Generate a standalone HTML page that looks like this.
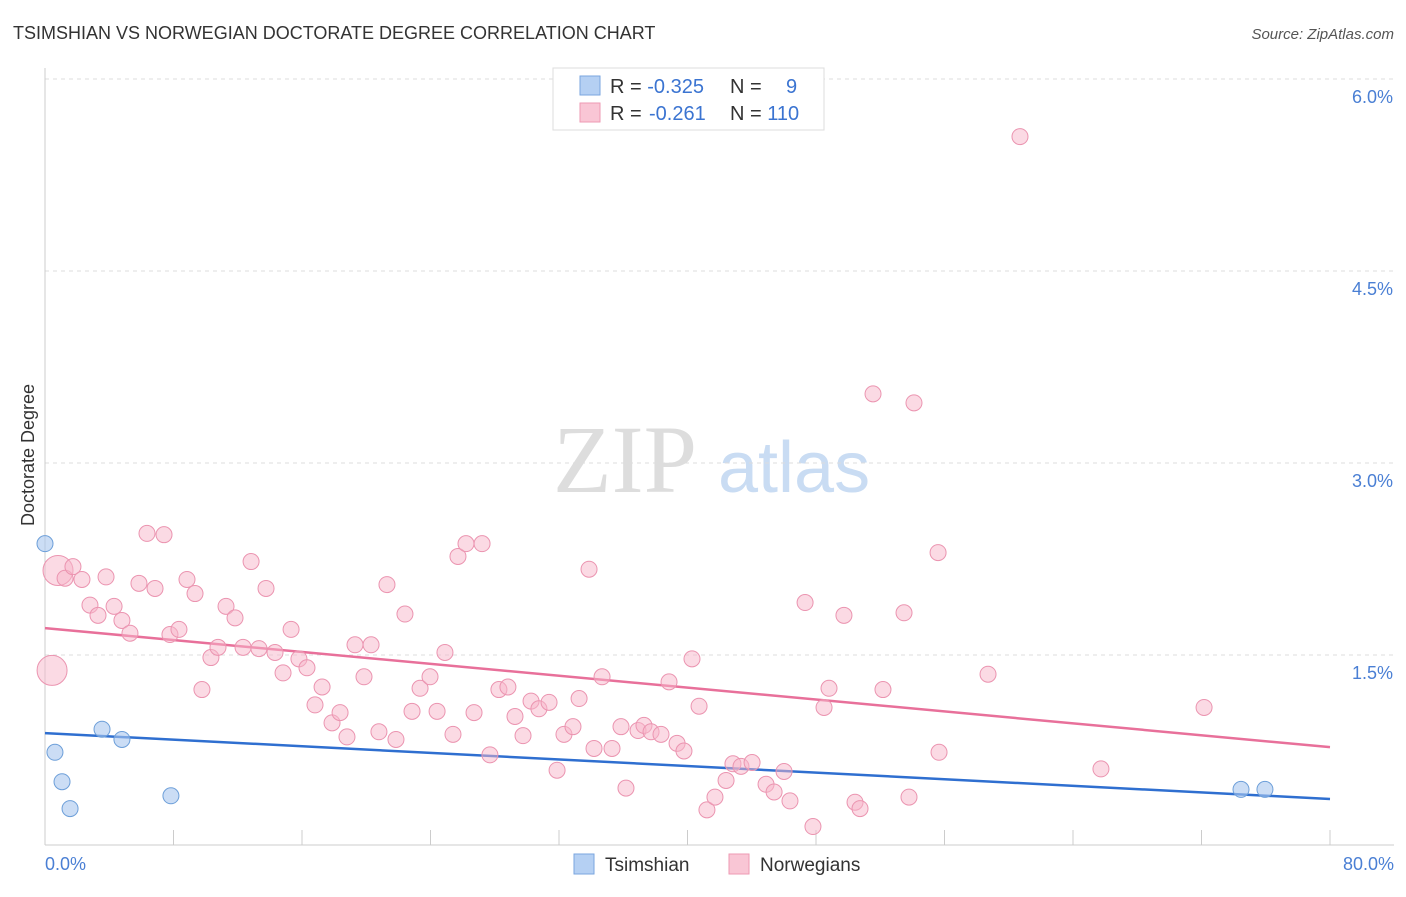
<!DOCTYPE html>
<html><head><meta charset="utf-8"><style>
body{margin:0;background:#fff;font-family:"Liberation Sans",sans-serif}
svg text{font-family:"Liberation Sans",sans-serif}
</style></head><body>
<svg id="c" width="1406" height="892">
<text x="13" y="39" font-size="18" fill="#333">TSIMSHIAN VS NORWEGIAN DOCTORATE DEGREE CORRELATION CHART</text>
<text x="1394" y="39" font-size="15" fill="#555" font-style="italic" text-anchor="end">Source: ZipAtlas.com</text>
<text x="34" y="455" font-size="18" fill="#333" text-anchor="middle" transform="rotate(-90 34 455)">Doctorate Degree</text>
<g><text x="553" y="492" font-size="96" fill="#ddd" font-family="Liberation Serif" style="font-family:'Liberation Serif',serif">ZIP</text><text x="718" y="492" font-size="72" fill="#c9dcf3">atlas</text></g>
<g id="grid"></g><g id="axes"></g><g id="lines"></g><g id="pts"></g>
<g>
<rect x="553" y="68" width="271" height="62" fill="#fff" stroke="#ddd"/>
<rect x="580" y="76" width="20" height="19" fill="#b5d0f3" stroke="#7aa6df"/>
<rect x="580" y="103" width="20" height="19" fill="#f9c6d5" stroke="#ee9ab3"/>
<text x="610" y="93" font-size="20" fill="#333">R = <tspan fill="#3b74d1">-0.325</tspan></text>
<text x="730" y="93" font-size="20" fill="#333">N = <tspan fill="#3b74d1" x="786">9</tspan></text>
<text x="610" y="120" font-size="20" fill="#333">R = <tspan fill="#3b74d1" x="649">-0.261</tspan></text>
<text x="730" y="120" font-size="20" fill="#333">N = <tspan fill="#3b74d1">110</tspan></text>
</g>
<g>
<rect x="574" y="854" width="20" height="20" fill="#b5d0f3" stroke="#7aa6df"/>
<text x="605" y="871" font-size="19" fill="#333">Tsimshian</text>
<rect x="729" y="854" width="20" height="20" fill="#f9c6d5" stroke="#ee9ab3"/>
<text x="760" y="871" font-size="19" fill="#333">Norwegians</text>
</g>
</svg>
<script>
const xTicks=[0,80];
const yTicks=[1.5,3.0,4.5,6.0];
const blueX=[0,0.62,1.06,1.56,3.55,4.79,7.84,74.46,75.95];
const blueY=[2.37,0.74,0.51,0.30,0.92,0.84,0.40,0.45,0.45];
const pinkX=[0.81,0.44,1.25,1.74,2.30,2.80,3.30,3.80,4.30,4.79,5.29,5.85,6.35,6.85,7.41,7.78,8.34,8.84,9.34,9.77,10.33,10.77,11.27,11.83,12.33,12.83,13.32,13.76,14.32,14.82,15.32,15.81,16.31,16.81,17.25,17.87,18.37,18.80,19.30,19.86,20.30,20.79,21.29,21.85,22.41,22.85,23.35,23.97,24.41,24.90,25.40,25.71,26.21,26.71,27.21,27.70,28.26,28.82,29.26,29.76,30.26,30.75,31.38,31.88,32.31,32.87,33.25,33.87,34.18,34.68,35.30,35.86,36.17,36.92,37.29,37.73,38.35,38.85,39.35,39.78,40.28,40.72,41.21,41.71,42.40,42.83,43.33,44.02,44.89,45.39,46.01,46.38,47.32,47.81,48.50,48.81,49.74,50.43,50.74,51.55,52.17,53.48,53.79,54.10,55.60,55.66,58.71,60.70,65.74,72.16];
const pinkY=[2.16,1.38,2.10,2.19,2.09,1.89,1.81,2.11,1.88,1.77,1.67,2.06,2.45,2.02,2.44,1.66,1.70,2.09,1.98,1.23,1.48,1.56,1.88,1.79,1.56,2.23,1.55,2.02,1.52,1.36,1.70,1.47,1.40,1.11,1.25,0.97,1.05,0.86,1.58,1.33,1.58,0.90,2.05,0.84,1.82,1.06,1.24,1.33,1.06,1.52,0.88,2.27,2.37,1.05,2.37,0.72,1.23,1.25,1.02,0.87,1.14,1.08,1.13,0.60,0.88,0.94,1.16,2.17,0.77,1.33,0.77,0.94,0.46,0.91,0.95,0.90,0.88,1.29,0.81,0.75,1.47,1.10,0.29,0.39,0.52,0.65,0.63,0.66,0.49,0.43,0.59,0.36,1.91,0.16,1.09,1.24,1.81,0.35,0.30,3.54,1.23,1.83,0.39,3.47,2.30,0.74,1.35,5.55,0.61,1.09];
const pinkBig=[0,1];
const blueTrend=[0.89,0.375];
const pinkTrend=[1.71,0.78];
const X=v=>45+v/80*1285, Y=v=>847-v*128;
const NS="http://www.w3.org/2000/svg";
function mk(p,t,a){const e=document.createElementNS(NS,t);for(const k in a)e.setAttribute(k,a[k]);document.getElementById(p).appendChild(e);return e;}
yTicks.forEach(t=>{const l=mk('grid','line',{x1:45,x2:1394,y1:Y(t),y2:Y(t),stroke:'#ddd','stroke-dasharray':'4 4'});


const tx=mk('grid','text',{x:1393,y:Y(t)+24,'font-size':18,fill:'#4a7fd4','text-anchor':'end'});tx.textContent=t.toFixed(1)+'%';

});
const ax=mk('axes','line',{x1:45,x2:45,y1:68,y2:845,stroke:'#ccc'});


const bx=mk('axes','line',{x1:45,x2:1394,y1:845,y2:845,stroke:'#ccc'});


for(let i=0;i<=10;i++){const tk=mk('axes','line',{x1:X(i*8),x2:X(i*8),y1:830,y2:845,stroke:'#ccc'});

}
xTicks.forEach((t,i)=>{const tx=mk('axes','text',{x:i?1394:45,y:870,'font-size':18,fill:'#4a7fd4','text-anchor':i?'end':'start'});tx.textContent=t.toFixed(1)+'%';

});
pinkX.forEach((x,i)=>{const c=mk('pts','circle',{cx:X(x),cy:Y(pinkY[i]),r:pinkBig.includes(i)?15:8,fill:'rgba(248,182,202,0.5)',stroke:'#eb94b0','stroke-width':1});

});
blueX.forEach((x,i)=>{const c=mk('pts','circle',{cx:X(x),cy:Y(blueY[i]),r:8,fill:'rgba(168,199,238,0.6)',stroke:'#6d9fd9','stroke-width':1});

});
const bl=mk('lines','line',{x1:X(0),y1:Y(blueTrend[0]),x2:X(80),y2:Y(blueTrend[1]),stroke:'#2f6fd0','stroke-width':2.5});


const pl=mk('lines','line',{x1:X(0),y1:Y(pinkTrend[0]),x2:X(80),y2:Y(pinkTrend[1]),stroke:'#e8709a','stroke-width':2.5});


</script>
</body></html>
